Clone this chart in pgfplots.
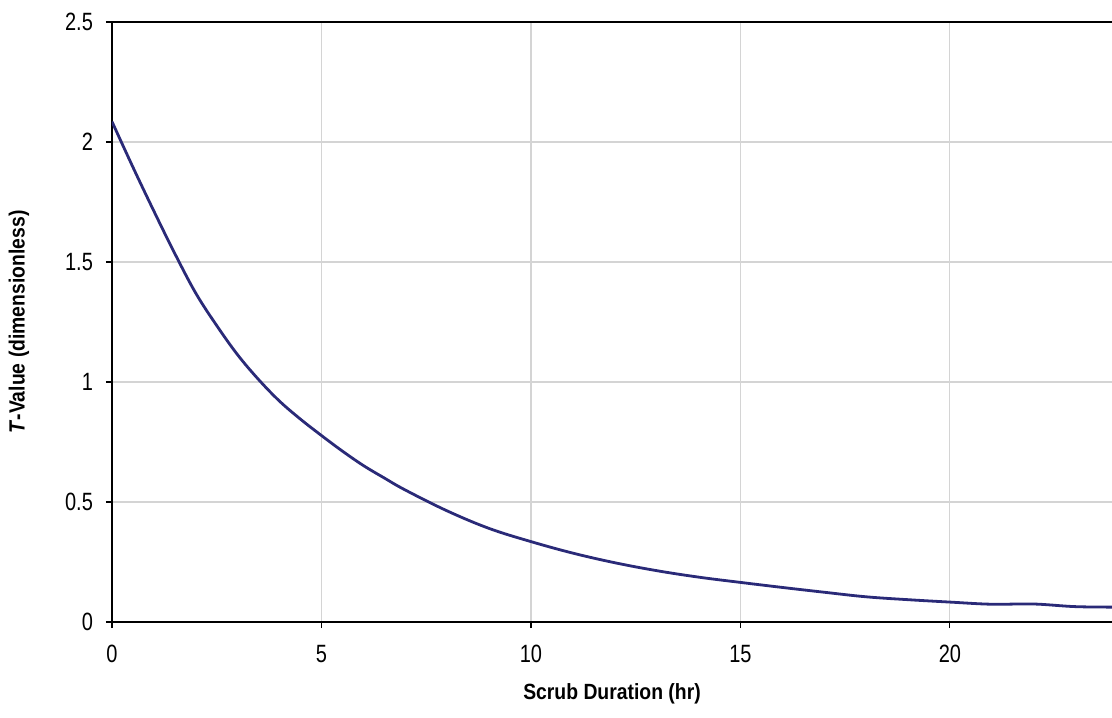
\documentclass[border=0pt]{standalone}
\usepackage{fontspec}
\setmainfont{Liberation Sans}[FakeStretch=0.88]
\newfontfamily\tickfont{Liberation Sans}[FakeStretch=0.8]
\usepackage{pgfplots}
\pgfplotsset{compat=1.18}
\definecolor{curve}{RGB}{42,42,120}
\definecolor{gridc}{RGB}{212,212,212}
\begin{document}
\begin{tikzpicture}
\begin{axis}[
  name=ax, at={(0,0)}, anchor=south west,
  scale only axis, width=500pt, height=300pt,
  xmin=0, xmax=23.87, ymin=0, ymax=2.5,
  xtick={0,5,10,15,20}, ytick={0,0.5,1,1.5,2,2.5},
  yticklabels={0,0.5,1,1.5,2,2.5},
  xticklabels={0,5,10,15,20},
  axis x line*=box, axis y line*=left,
  axis line style={black, line width=1.3pt},
  x axis line style={-}, y axis line style={-},
  tick align=outside, major tick length=3pt,
  tick style={black, line width=0.6pt},
  xtick pos=bottom, ytick pos=left,
  grid=major, major grid style={gridc, line width=0.6pt},
  tick label style={font=\tickfont\fontsize{12.5}{14}\selectfont},
  xticklabel style={yshift=-5pt},
  yticklabel style={xshift=-3pt},
  xlabel={\textbf{Scrub Duration (hr)}},
  ylabel={\textbf{\textit{T}-Value (dimensionless)}},
  label style={font=\fontsize{11}{13}\selectfont},
  x label style={at={(axis description cs:0.5,-0.12)}, anchor=center},
  y label style={at={(axis description cs:-0.093,0.5)}, anchor=center, rotate=0},
  clip=true,
]
\addplot[curve, line width=1.4pt, smooth, tension=0.6] coordinates {
(0,2.085) (0.5,1.895) (1,1.712) (1.5,1.535) (2,1.37) (2.5,1.235) (3,1.113)
(3.5,1.01) (4,0.92) (4.5,0.845) (5,0.777) (5.5,0.712) (6,0.652) (6.5,0.6)
(7,0.55) (8,0.463)
(9,0.39) (10,0.335) (11,0.287) (12,0.247) (13,0.214) (14,0.187) (15,0.165)
(16,0.144) (17,0.124) (18,0.105) (19,0.093) (20,0.083) (21,0.074) (22,0.075)
(23,0.064) (24,0.062)
};
\end{axis}
\pgfresetboundingbox
\path[use as bounding box] ([xshift=-56pt,yshift=-47.5pt]ax.south west) rectangle ([yshift=11pt]ax.north east);
\end{tikzpicture}
\end{document}
